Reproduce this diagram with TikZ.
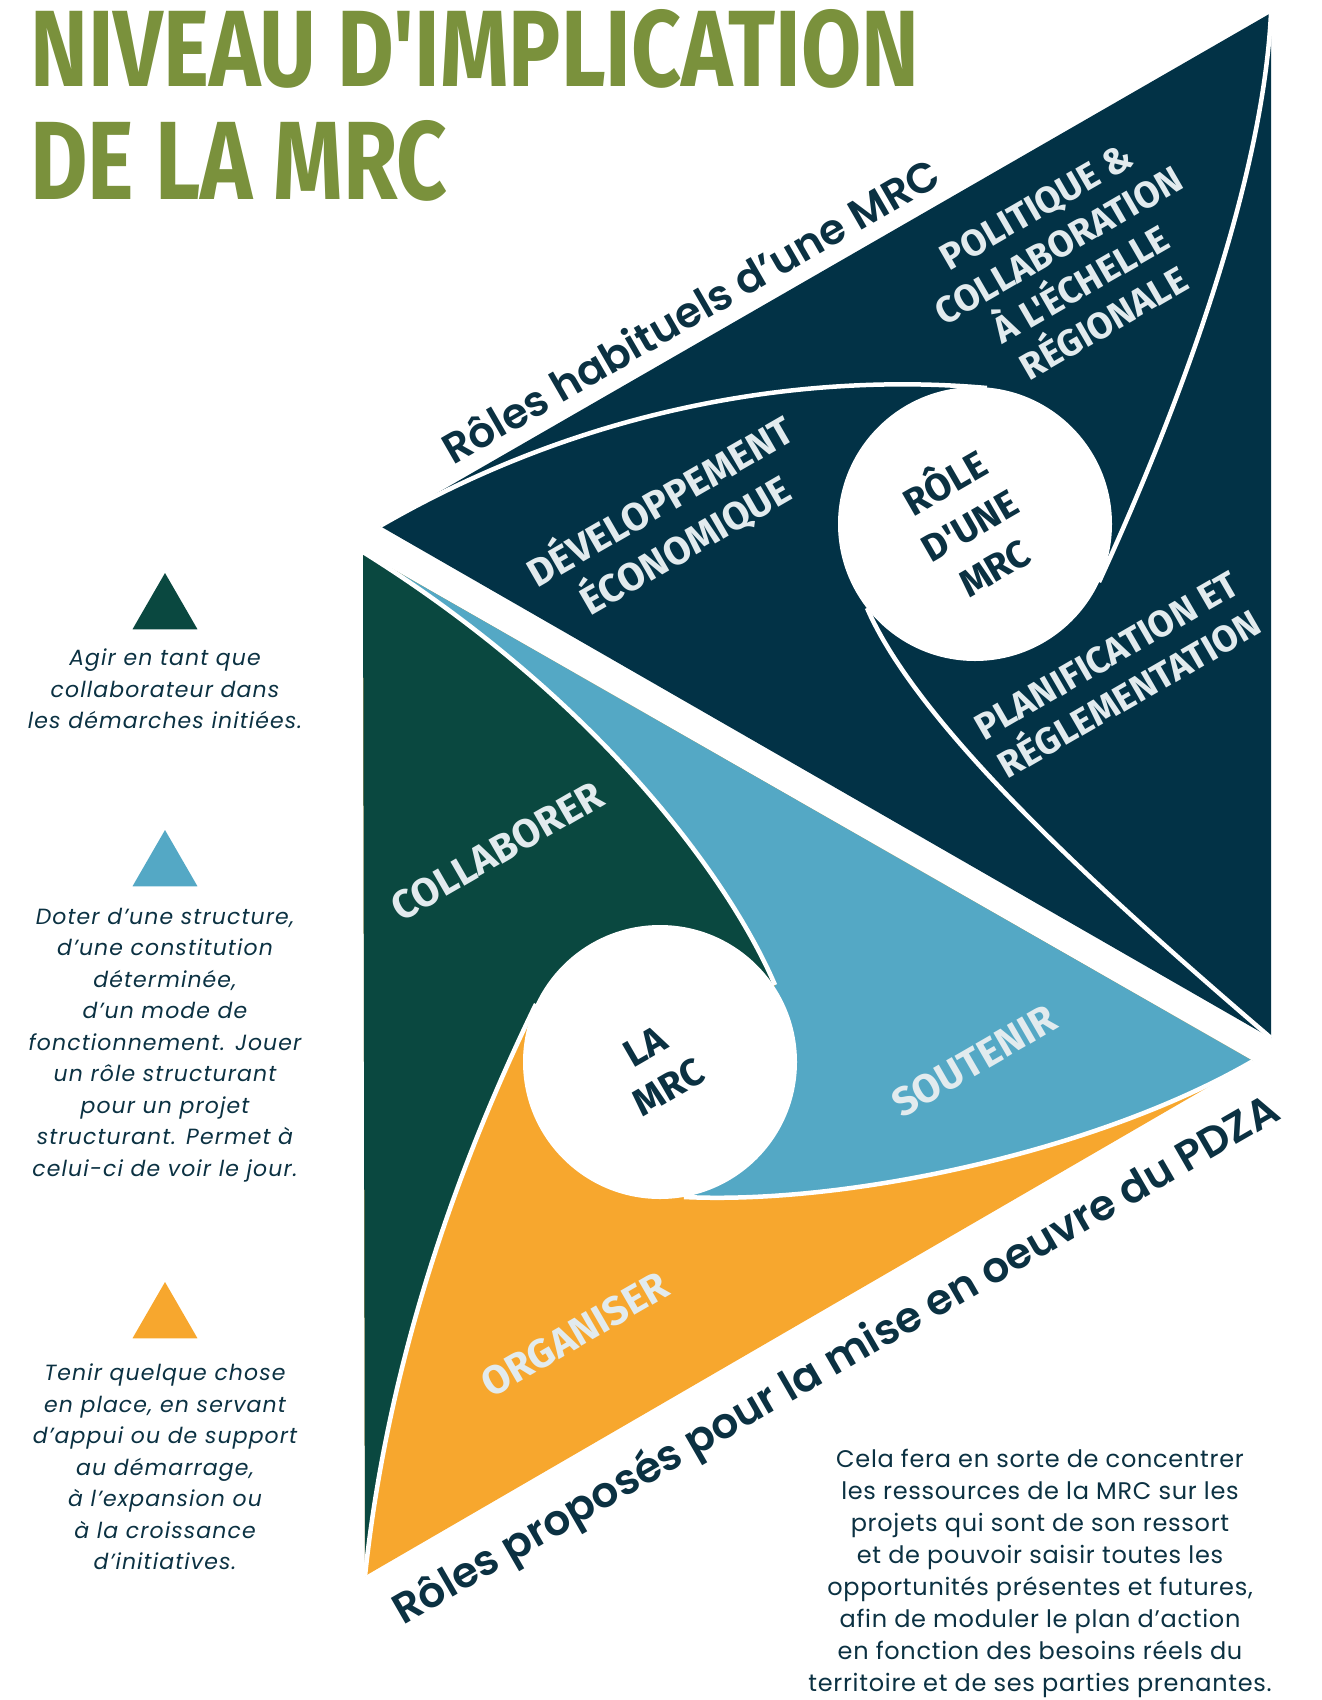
\documentclass[tikz,border=0pt]{standalone}
\usepackage{fontspec}
\usepackage{graphicx}
\usetikzlibrary{shapes.geometric}
\setmainfont{Poppins}
\newfontfamily\stampfont{Fira Sans}
\newfontfamily\capfont{Poppins SemiBold}
\newfontfamily\notefont{Poppins}[LetterSpace=5]
\newfontfamily\parafont{Poppins}[LetterSpace=3]
\definecolor{navy}{HTML}{023246}
\definecolor{forest}{HTML}{0A4840}
\definecolor{sky}{HTML}{54A8C5}
\definecolor{amber}{HTML}{F7A72E}
\definecolor{olive}{HTML}{7A913C}
\definecolor{ink}{HTML}{0B3142}
\definecolor{chalk}{HTML}{E2EBEE}

\begin{document}
\begin{tikzpicture}[x=1pt,y=-1pt,
    stamp/.style={rotate=30,align=center,text=chalk,inner sep=0pt,
      font=\stampfont\bfseries\fontsize{37}{45}\selectfont},
    stampin/.style={stamp,text=ink},
    note/.style={align=center,text=ink,inner sep=0pt,
      font=\notefont\itshape\fontsize{22}{31.5}\selectfont},
    legtri/.style={regular polygon,regular polygon sides=3,minimum size=75pt,inner sep=0pt},
    gap/.style={white,line width=4.5pt}] % 3 triangles
  \useasboundingbox (0,0) rectangle (1322,1700);

  % title
  \node[anchor=south west,inner sep=0pt,text=olive] (title1) at (30,89)
    {\resizebox{889pt}{77pt}{\stampfont\bfseries NIVEAU D'IMPLICATION}};
  \node[anchor=south west,inner sep=0pt,text=olive] (title2) at (30,202)
    {\resizebox{417pt}{79pt}{\stampfont\bfseries DE LA MRC}};

  % upper triangle
  \coordinate (T1) at (1271,13);
  \coordinate (L1) at (380,526);
  \coordinate (B1) at (1271,1038);
  \coordinate (c1) at (975,524);
  \fill[navy] (T1) -- (L1) -- (B1) -- cycle;
  \draw[gap] (L1) .. controls (596,401) and (817,373) .. (987,388);
  \draw[gap] (T1) .. controls (1262,200) and (1162,445) .. (1099,582);
  \draw[gap] (B1) .. controls (1110,900) and (920,730) .. (867,608);
  \fill[white] (c1) circle[radius=137pt];

  % lower triangle
  \coordinate (A) at (363,552);
  \coordinate (B) at (365,1576);
  \coordinate (C) at (1253,1061);
  \coordinate (c2) at (660,1062);
  \fill[amber] (A) -- (B) -- (C) -- cycle;
  \fill[forest] (A) -- (B) .. controls (390,1340) and (470,1140) .. (536,1004)
    -- (775,985) .. controls (730,880) and (600,700) .. (A) -- cycle;
  \fill[sky] (A) .. controls (600,700) and (730,880) .. (775,985)
    -- (684,1197) .. controls (850,1205) and (1100,1150) .. (C) -- cycle;
  \draw[gap] (A) .. controls (600,700) and (730,880) .. (775,985);
  \draw[gap] (B) .. controls (390,1340) and (470,1140) .. (536,1004);
  \draw[gap] (C) .. controls (1100,1150) and (850,1205) .. (684,1197);
  \fill[white] (c2) circle[radius=137pt];

  % labels in the triangles
  \node[stamp] (polit) at (1070,265) {POLITIQUE \&\\COLLABORATION\\À L'ÉCHELLE\\RÉGIONALE};
  \node[stamp,font=\stampfont\bfseries\fontsize{39}{50}\selectfont] (devel) at (672,522) {DÉVELOPPEMENT\\ÉCONOMIQUE};
  \node[stamp] (plani) at (1118,675) {PLANIFICATION ET\\RÉGLEMENTATION};
  \node[stampin,font=\stampfont\bfseries\fontsize{38}{49}\selectfont] (role) at (968,522) {RÔLE\\D'UNE\\MRC};
  \node[stamp,font=\stampfont\bfseries\fontsize{40}{46}\selectfont] (collab) at (497,851) {COLLABORER};
  \node[stamp,font=\stampfont\bfseries\fontsize{40}{46}\selectfont] (souten) at (974,1061) {SOUTENIR};
  \node[stamp,font=\stampfont\bfseries\fontsize{40}{46}\selectfont] (organ) at (575,1334) {ORGANISER};
  \node[stampin,font=\stampfont\bfseries\fontsize{38}{47}\selectfont] (lamrc) at (657,1067) {LA\\MRC};

  % captions along the edges
  \node[anchor=base west,rotate=30,inner sep=0pt,text=ink,font=\capfont] (habit) at (453,466)
    {\resizebox{566pt}{!}{Rôles habituels d’une MRC}};
  \node[anchor=base west,rotate=30,inner sep=0pt,text=ink,font=\capfont] (propo) at (403,1626)
    {\resizebox{1015pt}{!}{Rôles proposés pour la mise en oeuvre du PDZA}};

  % legend
  \node[legtri,fill=forest] (tri1) at (165,610.5) {};
  \node[legtri,fill=sky] (tri2) at (165,867.5) {};
  \node[legtri,fill=amber] (tri3) at (165,1319.5) {};
  \node[note] (agir) at (165,689) {Agir en tant que\\collaborateur dans\\les démarches initiées.};
  \node[note] (doter) at (165,1045) {Doter d’une structure,\\d’une constitution\\déterminée,\\d’un mode de\\fonctionnement. Jouer\\un rôle structurant\\pour un projet\\structurant. Permet à\\celui-ci de voir le jour.};
  \node[note] (tenir) at (165,1467) {Tenir quelque chose\\en place, en servant\\d’appui ou de support\\au démarrage,\\à l’expansion ou\\à la croissance\\d’initiatives.};

  % closing text
  \node[align=center,text=ink,inner sep=0pt,font=\parafont\fontsize{24}{32}\selectfont] (cela) at (1040,1573)
    {Cela fera en sorte de concentrer\\les ressources de la MRC sur les\\projets qui sont de son ressort\\et de pouvoir saisir toutes les\\opportunités présentes et futures,\\afin de moduler le plan d’action\\en fonction des besoins réels du\\territoire et de ses parties prenantes.};
\end{tikzpicture}
\end{document}
